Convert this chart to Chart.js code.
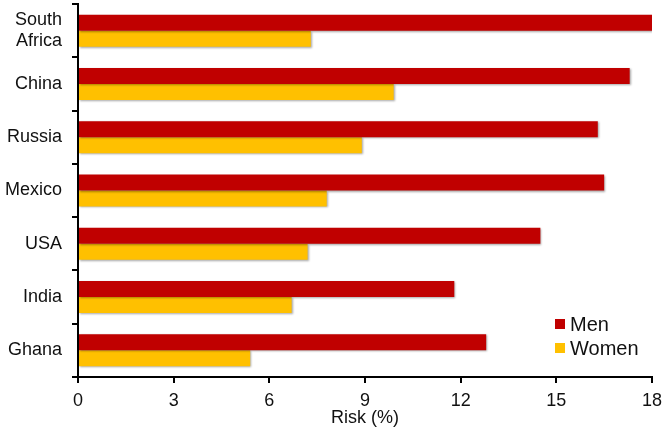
<!DOCTYPE html>
<html>
<head>
<meta charset="utf-8">
<script src="https://cdn.jsdelivr.net/npm/chart.js@4"></script>
<style>
  html, body { margin: 0; padding: 0; background: #fff; }
  #wrap { width: 666px; height: 431px; position: relative; }
</style>
</head>
<body>
<div id="wrap"><canvas id="riskChart" width="666" height="431"></canvas></div>
<script>
// categorie e valori
const countries = [["South", "Africa"], "China", "Russia", "Mexico", "USA", "India", "Ghana"];
const menRisk = [18.0, 17.3, 16.3, 16.5, 14.5, 11.8, 12.8];
const womenRisk = [7.3, 9.9, 8.9, 7.8, 7.2, 6.7, 5.4];
const xTicks = [0, 3, 6, 9, 12, 15, 18];

const FONT = "'Liberation Sans', Arial, sans-serif";

// ombra leggera sotto le barre
const barShadow = {
    id: 'barShadow',
    beforeDatasetsDraw(chart) {
        const ctx = chart.ctx;
        ctx.save();
        ctx.shadowColor = 'rgba(0,0,0,0.35)';
        ctx.shadowBlur = 2;
        ctx.shadowOffsetX = 1;
        ctx.shadowOffsetY = 1;
    },
    afterDatasetsDraw(chart) {
        chart.ctx.restore();
    }
};

// legenda dentro l'area del grafico, in basso a destra
const innerLegend = {
    id: 'innerLegend',
    afterDraw(chart) {
        const ctx = chart.ctx;
        const items = chart.data.datasets;
        ctx.save();
        ctx.font = '20px ' + FONT;
        ctx.textBaseline = 'middle';
        items.forEach((ds, i) => {
            const y = 324 + i * 24;
            ctx.fillStyle = ds.backgroundColor;
            ctx.fillRect(555, y - 5, 10, 10);
            ctx.fillStyle = '#111';
            ctx.fillText(ds.label, 570, y + 1);
        });
        ctx.restore();
    }
};

new Chart(document.getElementById('riskChart'), {
    type: 'bar',
    data: {
        labels: countries,
        datasets: [
            { label: 'Men', data: menRisk, backgroundColor: '#C00000' },
            { label: 'Women', data: womenRisk, backgroundColor: '#FFC000' }
        ]
    },
    options: {
        indexAxis: 'y',
        responsive: false,
        animation: false,
        layout: { padding: { top: 4, right: 14, bottom: 0, left: 0 } },
        datasets: { bar: { categoryPercentage: 0.6, barPercentage: 1.0 } },
        scales: {
            x: {
                min: 0,
                max: 18,
                afterBuildTicks(scale) { scale.ticks = xTicks.map(v => ({ value: v })); },
                afterFit(scale) {
                    scale.height = 54;
                    scale.paddingLeft = 0;
                    scale.paddingRight = 0;
                },
                grid: { drawOnChartArea: false, color: '#000', tickLength: 6, lineWidth: 2 },
                border: { color: '#000', width: 2 },
                ticks: { color: '#111', font: { family: FONT, size: 18 }, padding: 7 },
                title: { display: true, text: 'Risk (%)', color: '#111', font: { family: FONT, size: 18 }, padding: { top: 0, bottom: 2 } }
            },
            y: {
                afterFit(scale) {
                    scale.width = 78;
                    scale.paddingTop = 0;
                    scale.paddingBottom = 0;
                },
                grid: { drawOnChartArea: false, color: '#000', tickLength: 6, lineWidth: 2 },
                border: { color: '#000', width: 2 },
                ticks: { color: '#111', font: { family: FONT, size: 18, lineHeight: 1.2 }, padding: 10 }
            }
        },
        plugins: {
            legend: { display: false },
            tooltip: { enabled: false }
        }
    },
    plugins: [barShadow, innerLegend]
});
</script>
</body>
</html>
